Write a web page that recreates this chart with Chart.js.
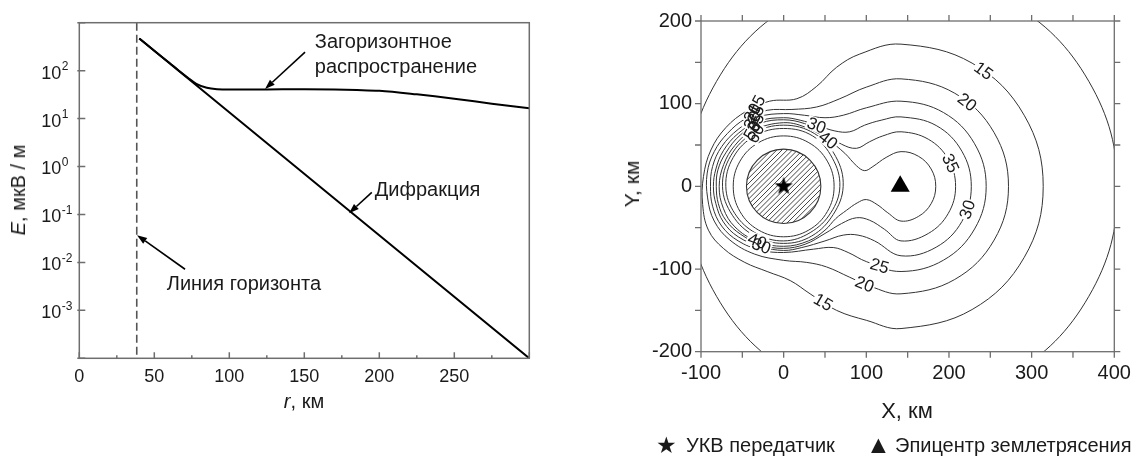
<!DOCTYPE html>
<html><head><meta charset="utf-8">
<script src="https://cdn.jsdelivr.net/npm/chart.js@4.4.1/dist/chart.umd.min.js"></script>
<style>
html,body{margin:0;padding:0;background:#fff;width:1143px;height:458px;overflow:hidden;font-family:"Liberation Sans",Arial,sans-serif;color:#1a1a1a}
#left{position:absolute;left:0;top:0}
#right{position:absolute;left:600px;top:0}
.t{position:absolute;white-space:nowrap;font-size:20px;line-height:20px}
.r{transform:translate(-50%,-50%) rotate(-90deg)}
.c{transform:translate(-50%,-50%)}
</style></head><body>
<canvas id="left" width="560" height="458"></canvas>
<canvas id="right" width="543" height="458"></canvas>
<div class="t r" style="left:18px;top:190px"><i>E</i>, мкВ / м</div>
<div class="t c" style="left:304px;top:401px"><i>r</i>, км</div>
<div class="t r" style="left:632px;top:184px;font-size:21px">Y, км</div>
<div class="t c" style="left:907px;top:411px;font-size:22px">X, км</div>
<div class="t" style="left:656px;top:434px;font-size:23px;line-height:23px">★</div>
<div class="t" style="left:686px;top:435px">УКВ передатчик</div>
<div class="t" style="left:866px;top:432px;font-size:25px;line-height:25px">▲</div>
<div class="t" style="left:895px;top:435px">Эпицентр землетрясения</div>
<script>
// ---------- left chart data ----------
const diffR = [40, 180, 300];
const diffE = [470, 0.12, 1.0e-4];
const overR = [40, 50, 60, 66, 72, 78, 85, 92, 100, 125, 150, 170, 185, 200, 225, 250, 275, 300];
const overE = [470, 260, 146, 102, 73, 53, 44, 41, 40.3, 40.5, 41, 40.5, 39.5, 38, 32, 26, 20.5, 16.5];
const horizonR = 38.3;
const yTickVals = [1e-4, 1e-3, 1e-2, 1e-1, 1, 10, 100, 1000];
const yTickExp = ['', '-3', '-2', '-1', '0', '1', '2', ''];
const xMajor = [0, 50, 100, 150, 200, 250, 300];
const xMinor = [25, 75, 125, 175, 225, 275];
const noteText = ['Загоризонтное', 'распространение', 'Дифракция', 'Линия горизонта'];
const noteAt = [[157, 296], [157, 89], [197, 0.241], [58.3, 0.00263]];
const arrowFrom = [[150.5, 244], [195, 0.29], [70.5, 0.0072]];
const arrowTo = [[123.8, 41.3], [179.8, 0.106], [38.5, 0.037]];

// ---------- right chart data ----------
const transmitter = [0, 0];
const epicenter = [141, 0];
const hatchRadius = 45;
const c10 = [[404,-3],[369.2,127],[274,222.2],[144,257],[14,222.2],[-81.2,127],[-116,-3],[-81.2,-133],[14,-228.2],[144,-263],[274,-228.2],[369.2,-133],[404,-3]];
const c15 = [[314,0],[291,86],[228,149],[142,172],[92,160],[64,144],[40,121],[16,106],[-17,103],[-45,91],[-70,71],[-88,44],[-97,12],[-98,-22],[-91,-53],[-73,-75],[-47,-92],[-20,-103],[8,-114],[32,-130],[64,-150],[100,-162],[142,-172],[228,-149],[291,-86],[314,0]];
const c20 = [[272,0],[254.6,65],[207,112.6],[142,130],[100,120],[68,106],[40,96],[10,93],[-20,92],[-46,82],[-68,64],[-84,42],[-92.5,16],[-92,-14],[-84,-42],[-65,-65],[-35,-82],[0,-89.5],[28,-92],[52,-97.5],[80,-110],[105,-121],[142,-130],[207,-112.6],[254.6,-65],[272,0]];
const c25 = [[245,0],[231,51.5],[193.5,89.2],[142,103],[100,95],[72,86],[50,83],[25,86],[0,88],[-30,84],[-55,69],[-75,48],[-86,24],[-88.5,0],[-86,-24],[-75,-48],[-55,-66],[-28,-77],[0,-80],[36,-76],[60,-74],[78,-80],[100,-91],[142,-103],[193.5,-89.2],[231,-51.5],[245,0]];
const c30 = [[227,0],[215.6,42.5],[184.5,73.6],[142,84],[118,80],[98,74],[80,66],[62,67],[40,74],[20,80],[0,83],[-30,79],[-55,64],[-73,43],[-82,21],[-85,0],[-82,-21],[-73,-43],[-55,-61],[-27,-73],[0,-77.5],[22,-74],[50,-66],[72,-59],[90,-59],[110,-66],[142,-84],[184.5,-73.6],[215.6,-42.5],[227,0]];
const c35 = [[208,0],[199,33],[175,57],[142,66],[120,61],[104,54],[88,46],[70,51],[48,65],[25,76],[0,80.5],[-28,76.5],[-52,62.5],[-70,40.5],[-79.5,20],[-81.5,0],[-79,-21],[-70,-41],[-52,-58],[-26,-71],[0,-75],[26,-70],[50,-57],[70,-45],[88,-38],[104,-41],[122,-52],[142,-66],[175,-57],[199,-33],[208,0]];
const c40 = [[184,0],[178.4,21],[163,36.4],[142,42],[124,35],[108,24],[98,19],[88,25],[74,40],[54,56],[30,70],[0,77],[-38.5,67],[-59,49.5],[-72.5,26.5],[-78,0],[-73,-26.5],[-59,-49],[-33,-66],[0,-72.5],[30,-66],[50,-53],[63,-39],[76,-29],[89,-20],[100,-16],[113,-22],[126,-32],[142,-42],[163,-36.4],[178.4,-21],[184,0]];
const c50 = [[72,0],[63,36],[37,64],[0,74],[-37,64],[-64,37],[-74,0],[-62,-35],[-35,-60],[0,-69],[34,-60],[60,-34],[72,0]];
const c60 = [[68,0],[59,34],[35,61],[0,70],[-35,61],[-61,35],[-70,0],[-59,-33],[-33,-57],[0,-66],[32,-56],[57,-32],[68,0]];
const cInner = [[61,0],[52.8,30.5],[30.5,52.8],[0,61],[-30.5,52.8],[-52.8,30.5],[-61,0],[-52.8,-30.5],[-30.5,-52.8],[0,-61],[30.5,-52.8],[52.8,-30.5],[61,0]];
const contours = [c10, c15, c20, c25, c30, c35, c40, c50, c60, cInner];
const labT = ['15','20','35','30','25','20','15','30','40','15','20','25','30','35','50','60','40','30'];
const labX = [242, 222, 202, 222, 116, 98, 48, 40, 54, -33, -38, -34, -38, -34, -38, -34, -32, -27];
const labY = [140, 102, 28, -28, -96, -118, -140, 74, 56, 99, 89, 87, 80, 77, 68, 64, -66, -72];
const labA = [36, 38, 65, -71, 16, 22, 30, 22, 38, -62, -62, -62, -62, -62, -62, -62, 20, 20];
const rTicks = [-200,-150,-100,-50,0,50,100,150,200];
const rxTicks = [-100,-50,0,50,100,150,200,250,300,350,400];

const FONT = '"Liberation Sans", Arial, sans-serif';
const AXIS = '#6e6e6e';

// ---------- left chart ----------
const leftPlugin = {
  id: 'leftDeco',
  beforeDatasetsDraw(chart) {
    const {ctx, chartArea: a, scales: {x}} = chart;
    ctx.save();
    ctx.strokeStyle = '#555'; ctx.lineWidth = 1.6; ctx.setLineDash([8, 4]);
    const hx = x.getPixelForValue(horizonR);
    ctx.beginPath(); ctx.moveTo(hx, a.top); ctx.lineTo(hx, a.bottom); ctx.stroke();
    ctx.restore();
  },
  afterDraw(chart) {
    const {ctx, chartArea: a, scales: {x, y}} = chart;
    ctx.save();
    ctx.strokeStyle = AXIS; ctx.lineWidth = 1.5;
    ctx.strokeRect(a.left, a.top, a.right - a.left, a.bottom - a.top);
    ctx.beginPath();
    xMajor.forEach(v => { const p = x.getPixelForValue(v); ctx.moveTo(p, a.bottom); ctx.lineTo(p, a.bottom - 6); });
    xMinor.forEach(v => { const p = x.getPixelForValue(v); ctx.moveTo(p, a.bottom); ctx.lineTo(p, a.bottom - 3); });
    yTickVals.forEach(v => { const p = y.getPixelForValue(v); ctx.moveTo(a.left - 2, p); ctx.lineTo(a.left + 6, p); });
    ctx.stroke();
    // y tick labels with superscript exponents
    ctx.fillStyle = '#1a1a1a'; ctx.textBaseline = 'middle';
    yTickVals.forEach((v, i) => {
      if (!yTickExp[i]) return;
      const p = y.getPixelForValue(v);
      ctx.font = '18px ' + FONT; ctx.textAlign = 'right'; ctx.fillText('10', a.left - 18, p + 3);
      ctx.font = '12px ' + FONT; ctx.textAlign = 'left'; ctx.fillText(yTickExp[i], a.left - 17.5, p - 4);
    });
    // notes
    ctx.font = '20px ' + FONT; ctx.textBaseline = 'alphabetic'; ctx.textAlign = 'left';
    noteText.forEach((t, i) => ctx.fillText(t, x.getPixelForValue(noteAt[i][0]), y.getPixelForValue(noteAt[i][1])));
    // arrows
    ctx.strokeStyle = '#000'; ctx.fillStyle = '#000'; ctx.lineWidth = 1.6;
    arrowFrom.forEach((f, i) => {
      const x0 = x.getPixelForValue(f[0]), y0 = y.getPixelForValue(f[1]);
      const x1 = x.getPixelForValue(arrowTo[i][0]), y1 = y.getPixelForValue(arrowTo[i][1]);
      const ang = Math.atan2(y1 - y0, x1 - x0), L = 10, W = 3.5;
      const bx = x1 - L * Math.cos(ang), by = y1 - L * Math.sin(ang);
      ctx.beginPath(); ctx.moveTo(x0, y0); ctx.lineTo(bx, by); ctx.stroke();
      ctx.beginPath(); ctx.moveTo(x1, y1);
      ctx.lineTo(bx + W * Math.sin(ang), by - W * Math.cos(ang));
      ctx.lineTo(bx - W * Math.sin(ang), by + W * Math.cos(ang));
      ctx.closePath(); ctx.fill();
    });
    ctx.restore();
  }
};

new Chart(document.getElementById('left'), {
  type: 'scatter',
  data: { datasets: [
    { data: diffR.map((r, i) => ({x: r, y: diffE[i]})), showLine: true, borderColor: '#000', borderWidth: 2, pointRadius: 0, tension: 0 },
    { data: overR.map((r, i) => ({x: r, y: overE[i]})), showLine: true, borderColor: '#000', borderWidth: 2, pointRadius: 0, cubicInterpolationMode: 'monotone' }
  ]},
  options: {
    responsive: false, animation: false, events: [],
    layout: { padding: { top: 22.7, right: 30.7, left: 0, bottom: 0 } },
    plugins: { legend: { display: false }, tooltip: { enabled: false } },
    scales: {
      x: { type: 'linear', min: 0, max: 300,
        afterBuildTicks: s => { s.ticks = xMajor.slice(0, 6).map(v => ({value: v})); },
        afterFit: s => { s.height = 99.7; },
        grid: { display: false, drawTicks: false }, border: { display: false },
        ticks: { font: { size: 18, family: FONT }, color: '#1a1a1a', padding: 8, maxRotation: 0, autoSkip: false } },
      y: { type: 'logarithmic', min: 1e-4, max: 1e3,
        afterBuildTicks: s => { s.ticks = yTickVals.map(v => ({value: v})); },
        afterFit: s => { s.width = 79.3; },
        grid: { display: false, drawTicks: false }, border: { display: false },
        ticks: { display: false } }
    }
  },
  plugins: [leftPlugin]
});

// ---------- right chart ----------
function makeStar() {
  const c = document.createElement('canvas'); c.width = 22; c.height = 22;
  const g = c.getContext('2d'); g.fillStyle = '#000'; g.beginPath();
  for (let i = 0; i < 10; i++) { const r = i % 2 ? 3.8 : 9.5; const a = -Math.PI / 2 + i * Math.PI / 5; g.lineTo(11 + r * Math.cos(a), 11 + r * Math.sin(a)); }
  g.closePath(); g.fill(); return c;
}

const rightPlugin = {
  id: 'rightDeco',
  beforeDatasetsDraw(chart) {
    const {ctx, scales: {x, y}} = chart;
    const cx = x.getPixelForValue(transmitter[0]), cy = y.getPixelForValue(transmitter[1]);
    const rp = Math.abs(x.getPixelForValue(hatchRadius) - x.getPixelForValue(0));
    ctx.save();
    ctx.beginPath(); ctx.arc(cx, cy, rp, 0, Math.PI * 2); ctx.clip();
    ctx.strokeStyle = '#444'; ctx.lineWidth = 1;
    ctx.beginPath();
    for (let k = -2 * rp; k <= 2 * rp; k += 5.2) { ctx.moveTo(cx + k - rp, cy + rp); ctx.lineTo(cx + k + rp, cy - rp); }
    ctx.stroke();
    ctx.restore();
    ctx.save(); ctx.strokeStyle = '#333'; ctx.lineWidth = 1.1;
    ctx.beginPath(); ctx.arc(cx, cy, rp, 0, Math.PI * 2); ctx.stroke(); ctx.restore();
  },
  afterDatasetsDraw(chart) {
    const {ctx, scales: {x, y}} = chart;
    ctx.save();
    ctx.font = '17px ' + FONT; ctx.textAlign = 'center'; ctx.textBaseline = 'middle';
    const pos = labT.map((t, i) => [x.getPixelForValue(labX[i]), y.getPixelForValue(labY[i]), labA[i] * Math.PI / 180, ctx.measureText(t).width]);
    ctx.fillStyle = '#fff';
    pos.forEach(p => { ctx.save(); ctx.translate(p[0], p[1]); ctx.rotate(p[2]); ctx.fillRect(-p[3] / 2 - 1, -7, p[3] + 2, 14); ctx.restore(); });
    ctx.fillStyle = '#1a1a1a';
    labT.forEach((t, i) => { const p = pos[i]; ctx.save(); ctx.translate(p[0], p[1]); ctx.rotate(p[2]); ctx.fillText(t, 0, 1); ctx.restore(); });
    ctx.restore();
  },
  afterDraw(chart) {
    const {ctx, chartArea: a, scales: {x, y}} = chart;
    ctx.save(); ctx.strokeStyle = AXIS; ctx.lineWidth = 1.3;
    ctx.strokeRect(a.left, a.top, a.right - a.left, a.bottom - a.top);
    ctx.beginPath();
    rxTicks.forEach(v => { const p = x.getPixelForValue(v); ctx.moveTo(p, a.bottom); ctx.lineTo(p, a.bottom + 6); ctx.moveTo(p, a.top); ctx.lineTo(p, a.top - 6); });
    rTicks.forEach(v => { const p = y.getPixelForValue(v); ctx.moveTo(a.left, p); ctx.lineTo(a.left - 6, p); ctx.moveTo(a.right, p); ctx.lineTo(a.right + 6, p); });
    ctx.stroke(); ctx.restore();
  }
};

// closed contours: wrap one point on each side so the spline is smooth at the seam; the wrap segments are hidden
const LINE = '#333';
const rightSets = contours.map(c => {
  const pts = [c[c.length - 2], ...c, c[1]].map(p => ({x: p[0], y: p[1]}));
  const n = pts.length;
  return { data: pts, showLine: true, borderColor: LINE, borderWidth: 1, pointRadius: 0, tension: 0.38,
    segment: { borderColor: s => (s.p0DataIndex === 0 || s.p1DataIndex === n - 1) ? 'rgba(0,0,0,0)' : LINE } };
});
rightSets.push({ data: [{x: transmitter[0], y: transmitter[1]}], pointStyle: makeStar(), pointRadius: 10, showLine: false });
rightSets.push({ data: [{x: epicenter[0], y: epicenter[1]}], pointStyle: 'triangle', pointRadius: 11, backgroundColor: '#000', borderColor: '#000', borderWidth: 0, showLine: false });

new Chart(document.getElementById('right'), {
  type: 'scatter',
  data: { datasets: rightSets },
  options: {
    responsive: false, animation: false, events: [],
    layout: { padding: { top: 20.7, right: 28.7, left: 0, bottom: 0 } },
    elements: { line: { capBezierPoints: false } },
    plugins: { legend: { display: false }, tooltip: { enabled: false } },
    scales: {
      x: { type: 'linear', min: -100, max: 400,
        afterBuildTicks: s => { s.ticks = rxTicks.map(v => ({value: v})); },
        afterFit: s => { s.height = 106.3; },
        grid: { display: false, drawTicks: false }, border: { display: false },
        ticks: { font: { size: 20, family: FONT }, color: '#1a1a1a', padding: 10, maxRotation: 0, autoSkip: false,
          callback: v => (v % 100 === 0 ? String(v) : '') } },
      y: { type: 'linear', min: -200, max: 200,
        afterBuildTicks: s => { s.ticks = rTicks.map(v => ({value: v})); },
        afterFit: s => { s.width = 101; },
        grid: { display: false, drawTicks: false }, border: { display: false },
        ticks: { font: { size: 20, family: FONT }, color: '#1a1a1a', padding: 9, autoSkip: false,
          callback: v => (v % 100 === 0 ? String(v) : '') } }
    }
  },
  plugins: [rightPlugin]
});
</script>
</body></html>
